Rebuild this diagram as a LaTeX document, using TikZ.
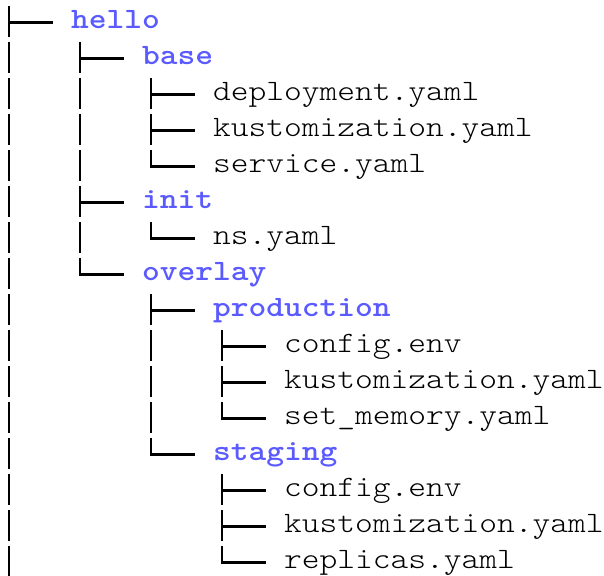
\documentclass[tikz,border=0pt]{standalone}
\usepackage{fontspec}
\newfontfamily\treefont[FakeStretch=1.143]{lmmonolt10-regular.otf}
\newfontfamily\treefontbf[FakeStretch=1.143]{lmmonolt10-bold.otf}
\definecolor{dirblue}{HTML}{5A5AFF}
\newcommand\treeV[2]{\draw[tl] ({#1*17.75+8.9},{28.5+36*#2-22.5}) -- ({#1*17.75+8.9},{28.5+36*#2+8.5});}
\newcommand\treeT[2]{\treeV{#1}{#2}\draw[tl] ({#1*17.75+8.9},{28.5+36*#2-6}) -- ({#1*17.75+53.25},{28.5+36*#2-6});}
\newcommand\treeL[2]{\draw[tl] ({#1*17.75+8.9},{28.5+36*#2-22.5}) -- ({#1*17.75+8.9},{28.5+36*#2-6}) -- ({#1*17.75+53.25},{28.5+36*#2-6});}
\tikzset{
  tl/.style={line width=2.6pt, line cap=butt, line join=miter, black},
  entry/.style={anchor=base west, inner sep=0pt, font=\treefont\fontsize{29.58}{36}\selectfont, text=black},
  dir/.style={entry, font=\treefontbf\fontsize{29.58}{36}\selectfont, text=dirblue}
}
\begin{document}
\begin{tikzpicture}[x=1pt,y=-1pt]
\useasboundingbox (0,0) rectangle (604,575);
% tree lines
\treeT{0}{0}
\foreach \r in {1,...,15} {\treeV{0}{\r}}
\treeT{4}{1}
\treeV{4}{2}\treeT{8}{2}
\treeV{4}{3}\treeT{8}{3}
\treeV{4}{4}\treeL{8}{4}
\treeT{4}{5}
\treeV{4}{6}\treeL{8}{6}
\treeL{4}{7}
\treeT{8}{8}
\treeV{8}{9}\treeT{12}{9}
\treeV{8}{10}\treeT{12}{10}
\treeV{8}{11}\treeL{12}{11}
\treeL{8}{12}
\treeT{12}{13}
\treeT{12}{14}
\treeL{12}{15}
% entries
\node[dir]   (hello)      at ({4*17.75},{28.5+36*0}) {hello};
\node[dir]   (base)       at ({8*17.75},{28.5+36*1}) {base};
\node[entry] (deploy)     at ({12*17.75},{28.5+36*2}) {deployment.yaml};
\node[entry] (kustbase)   at ({12*17.75},{28.5+36*3}) {kustomization.yaml};
\node[entry] (service)    at ({12*17.75},{28.5+36*4}) {service.yaml};
\node[dir]   (init)       at ({8*17.75},{28.5+36*5}) {init};
\node[entry] (ns)         at ({12*17.75},{28.5+36*6}) {ns.yaml};
\node[dir]   (overlay)    at ({8*17.75},{28.5+36*7}) {overlay};
\node[dir]   (production) at ({12*17.75},{28.5+36*8}) {production};
\node[entry] (prodcfg)    at ({16*17.75},{28.5+36*9}) {config.env};
\node[entry] (prodkust)   at ({16*17.75},{28.5+36*10}) {kustomization.yaml};
\node[entry] (setmem)     at ({16*17.75},{28.5+36*11}) {set\_memory.yaml};
\node[dir]   (staging)    at ({12*17.75},{28.5+36*12}) {staging};
\node[entry] (stgcfg)     at ({16*17.75},{28.5+36*13}) {config.env};
\node[entry] (stgkust)    at ({16*17.75},{28.5+36*14}) {kustomization.yaml};
\node[entry] (replicas)   at ({16*17.75},{28.5+36*15}) {replicas.yaml};
\end{tikzpicture}
\end{document}
